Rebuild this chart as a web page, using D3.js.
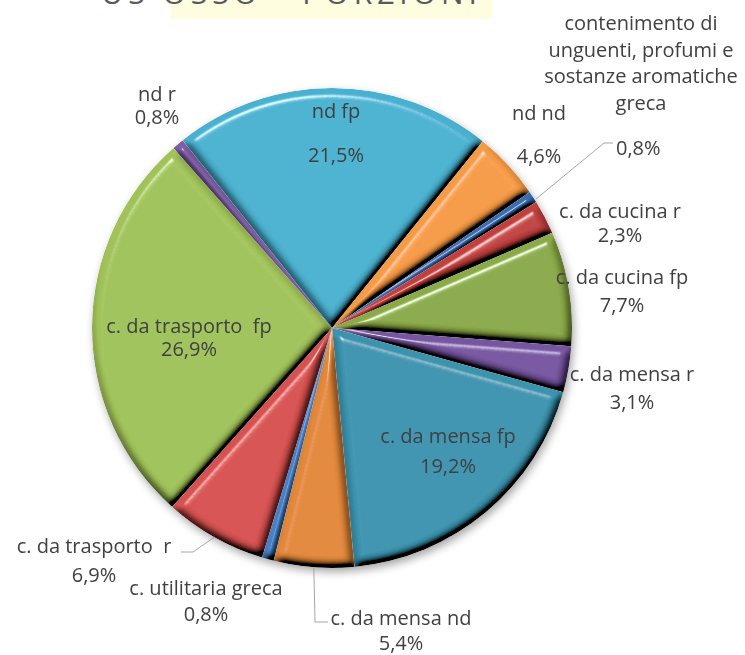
<!DOCTYPE html>
<html>
<head>
<meta charset="utf-8">
<script src="https://cdn.jsdelivr.net/npm/d3@7"></script>
<style>
body { margin: 0; background: #fff; }
svg { display: block; font-family: "Open Sans", Arial, sans-serif; }
.lbl { fill: #404040; font-size: 20px; white-space: pre; }
.leader { stroke: #a6a6a6; stroke-width: 1; fill: none; }
</style>
</head>
<body>
<div id="chart"></div>
<script>

// DATA ------------------------------------------------------------
// clockwise, starting from the big "nd fp" slice at the top
var categories = ["nd fp", "nd nd",
  "contenimento di unguenti, profumi e sostanze aromatiche greca",
  "c. da cucina r", "c. da cucina fp", "c. da mensa r", "c. da mensa fp",
  "c. da mensa nd", "c. utilitaria greca", "c. da trasporto  r",
  "c. da trasporto  fp", "nd r"];
var values = [21.5, 4.6, 0.8, 2.3, 7.7, 3.1, 19.2, 5.4, 0.8, 6.9, 26.9, 0.8];
var colors = ["#4ab1cf", "#f59a44", "#376db0", "#c0403e", "#8aa946", "#7755a0",
  "#3b93ae", "#e2883a", "#4780c4", "#d6514f", "#a0c259", "#7e5fa6"];
var title = "US OSSO - PORZIONI";

// label lines (category name split as in the picture)
var nameLines = [["nd fp"], ["nd nd"],
  ["contenimento di", "unguenti, profumi e", "sostanze aromatiche", "greca"],
  ["c. da cucina r"], ["c. da cucina fp"], ["c. da mensa r"], ["c. da mensa fp"],
  ["c. da mensa nd"], ["c. utilitaria greca"], ["c. da trasporto  r"],
  ["c. da trasporto  fp"], ["nd r"]];
// END -------------------------------------------------------------

var W = 745, H = 655;
var cx = 332, cy = 328, R = 240;
var a0 = -38.5 * Math.PI / 180;

// label placement: x = centre of block, y = first baseline, gap = line step
var layout = [
  {x: 336, y: 118, gap: 44},
  {x: 539, y: 120, gap: 43},
  {x: 641, y: 30, gap: 26.5, pctX: 616, pctY: 155, leader: true},
  {x: 620, y: 218, gap: 24},
  {x: 622, y: 284, gap: 28},
  {x: 632, y: 381, gap: 28},
  {x: 448, y: 443, gap: 30},
  {x: 401, y: 625, gap: 25, leader: true, elbowX: 315, elbowY: 622, endX: 328},
  {x: 206, y: 595, gap: 26},
  {x: 94, y: 553, gap: 29, leader: true, elbowX: 193, elbowY: 552, endX: 181},
  {x: 189, y: 333, gap: 23},
  {x: 157, y: 101, gap: 23}
];

var svg = d3.select("#chart").append("svg")
  .attr("width", W).attr("height", H);

var defs = svg.append("defs");

// bevel look of the slices
var bev = defs.append("filter").attr("id", "bevel")
  .attr("x", "-5%").attr("y", "-5%").attr("width", "110%").attr("height", "110%");
bev.append("feGaussianBlur").attr("in", "SourceAlpha").attr("stdDeviation", 4.5).attr("result", "blur");
bev.append("feDiffuseLighting").attr("in", "blur").attr("surfaceScale", 9)
  .attr("diffuseConstant", 1.3).attr("lighting-color", "#fff").attr("result", "diff")
  .append("feDistantLight").attr("azimuth", 250).attr("elevation", 50);
bev.append("feComposite").attr("in", "SourceGraphic").attr("in2", "diff")
  .attr("operator", "arithmetic").attr("k1", 1).attr("result", "shaded");
bev.append("feSpecularLighting").attr("in", "blur").attr("surfaceScale", 9)
  .attr("specularConstant", 0.9).attr("specularExponent", 60)
  .attr("lighting-color", "#fff").attr("result", "spec")
  .append("feDistantLight").attr("azimuth", 250).attr("elevation", 50);
bev.append("feComposite").attr("in", "spec").attr("in2", "SourceAlpha")
  .attr("operator", "in").attr("result", "specIn");
bev.append("feComposite").attr("in", "shaded").attr("in2", "specIn")
  .attr("operator", "arithmetic").attr("k2", 1).attr("k3", 0.7).attr("result", "lit");
bev.append("feComposite").attr("in", "lit").attr("in2", "SourceAlpha").attr("operator", "in");

var sh = defs.append("filter").attr("id", "shadow")
  .attr("x", "-10%").attr("y", "-10%").attr("width", "120%").attr("height", "120%");
sh.append("feDropShadow").attr("dx", 2).attr("dy", 4).attr("stdDeviation", 4)
  .attr("flood-color", "#000").attr("flood-opacity", 0.35);

// title (mostly cut off at the top edge)
svg.append("rect").attr("x", 171).attr("y", 0).attr("width", 321).attr("height", 19)
  .attr("fill", "#fffde0");
svg.append("text").attr("x", 482).attr("y", 4)
  .attr("text-anchor", "end").attr("fill", "#595959")
  .style("font-size", "30px").style("letter-spacing", "5px")
  .text(title);

// PIE -------------------------------------------------------------
var pie = d3.pie().sort(null).value(function(d){ return d; })
  .startAngle(a0).endAngle(a0 + 2 * Math.PI);
var arcs = pie(values);
var arc = d3.arc().innerRadius(0).outerRadius(R);
var rim = d3.arc().innerRadius(R).outerRadius(R);

var g = svg.append("g").attr("transform", "translate(" + cx + "," + cy + ")");
var pg = g.append("g").attr("filter", "url(#shadow)");
pg.selectAll("path").data(arcs).enter().append("path")
  .attr("d", arc)
  .attr("fill", function(d, i){ return colors[i]; })
  .attr("filter", "url(#bevel)");

// LABELS ----------------------------------------------------------
function pct(v){ return v.toFixed(1).replace(".", ",") + "%"; }

arcs.forEach(function(d, i){
  var L = layout[i];
  var lines = nameLines[i];
  var t = svg.append("text").attr("class", "lbl").attr("text-anchor", "middle");
  lines.forEach(function(s, k){
    t.append("tspan").attr("x", L.x).attr("y", L.y + k * L.gap).text(s);
  });
  if (L.pctX !== undefined) {
    svg.append("text").attr("class", "lbl").attr("x", L.pctX).attr("y", L.pctY)
      .text(pct(values[i]));
  } else {
    t.append("tspan").attr("x", L.x).attr("y", L.y + lines.length * L.gap).text(pct(values[i]));
  }
  if (L.leader) {
    var p = rim.centroid(d);
    var sx = cx + p[0], sy = cy + p[1];
    var pts;
    if (L.pctX !== undefined) pts = [[sx + 3, sy + 2], [L.pctX - 12, L.pctY - 12], [L.pctX - 3, L.pctY - 12]];
    else pts = [[sx, sy], [L.elbowX, L.elbowY], [L.endX, L.elbowY]];
    svg.append("path").attr("class", "leader").attr("d", d3.line()(pts));
  }
});
</script>
</body>
</html>
